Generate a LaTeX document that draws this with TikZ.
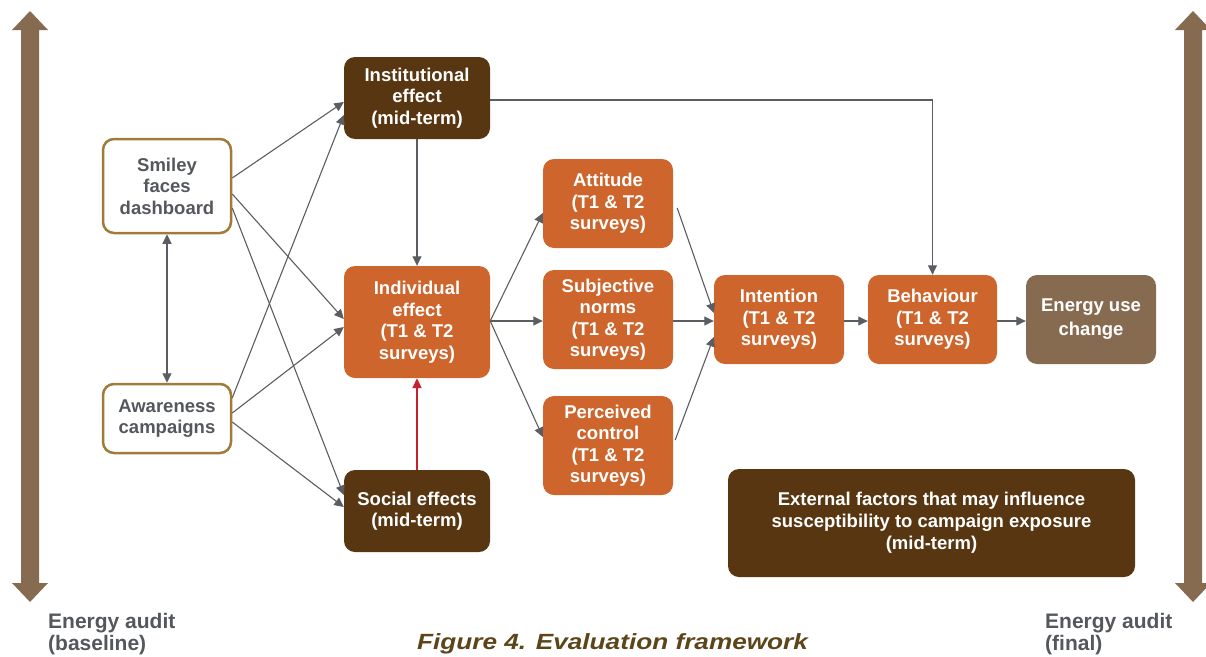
\documentclass[tikz,border=0pt]{standalone}
\usepackage{fontspec}
\usepackage{graphicx}
\setmainfont{Liberation Sans}
\usetikzlibrary{arrows.meta}
\definecolor{dbrown}{HTML}{573611}
\definecolor{orng}{HTML}{CD652C}
\definecolor{lbrown}{HTML}{876B51}
\definecolor{gold}{HTML}{A07B3A}
\definecolor{tgray}{HTML}{54585C}
\definecolor{cgray}{HTML}{5A5D61}
\definecolor{redc}{HTML}{C8202F}
\definecolor{capcol}{HTML}{5C4519}
\newcommand{\boxfont}{\bfseries\fontsize{18.5}{21.5}\selectfont}
\tikzset{
  box/.style={rounded corners=11pt, inner sep=0pt, align=center, font=\boxfont, text=white},
  dark/.style={box, fill=dbrown},
  org/.style={box, fill=orng},
  wbox/.style={box, fill=white, draw=gold, line width=2.5pt, text=tgray},
  conn/.style={draw=cgray, line width=1.1pt, -{Triangle[length=9.5pt,width=9pt]}},
  redconn/.style={draw=redc, line width=2pt, -{Triangle[length=10pt,width=9pt]}},
  bigarrow/.style={fill=lbrown, draw=none},
  audit/.style={font=\bfseries\fontsize{21}{22}\selectfont, text=tgray, align=left, inner sep=0pt, anchor=base west},
}
\begin{document}
\begin{tikzpicture}[x=1pt,y=-1pt]
\useasboundingbox (0,0) rectangle (1206,656);
% big vertical arrows
\fill[bigarrow] (21,30) -- (12,30) -- (30,11) -- (48,30) -- (39,30) -- (39,583) -- (48,583) -- (30,602) -- (12,583) -- (21,583) -- cycle;
\fill[bigarrow] (1184,30) -- (1175,30) -- (1193,11) -- (1211,30) -- (1202,30) -- (1202,583) -- (1211,583) -- (1193,602) -- (1175,583) -- (1184,583) -- cycle;
% boxes
\node[dark, minimum width=146pt, minimum height=82pt] (inst) at (417,98) {Institutional\\effect\\(mid-term)};
\node[wbox, minimum width=128pt, minimum height=94pt] (smiley) at (167,186) {Smiley\\faces\\dashboard};
\node[wbox, minimum width=128pt, minimum height=69pt] (aware) at (167,418.5) {Awareness\\campaigns};
\node[org, minimum width=146pt, minimum height=112pt] (indiv) at (417,322) {Individual\\effect\\(T1 \& T2\\surveys)};
\node[dark, minimum width=146pt, minimum height=82pt] (social) at (417,511) {Social effects\\(mid-term)};
\node[org, minimum width=130pt, minimum height=89pt] (att) at (608,203.5) {Attitude\\(T1 \& T2\\surveys)};
\node[org, minimum width=130pt, minimum height=99pt] (subj) at (608,319.5) {Subjective\\norms\\(T1 \& T2\\surveys)};
\node[org, minimum width=130pt, minimum height=99pt] (perc) at (608,445.5) {Perceived\\control\\(T1 \& T2\\surveys)};
\node[org, minimum width=130pt, minimum height=89pt] (intent) at (779,319.5) {Intention\\(T1 \& T2\\surveys)};
\node[org, minimum width=129pt, minimum height=89pt] (behav) at (932.5,319.5) {Behaviour\\(T1 \& T2\\surveys)};
\node[box, fill=lbrown, minimum width=130pt, minimum height=89pt, font=\bfseries\fontsize{18.5}{24}\selectfont] (energy) at (1091,319.5) {Energy use\\change};
\node[dark, minimum width=407pt, minimum height=108pt, font=\bfseries\fontsize{18.5}{22}\selectfont] (ext) at (931.5,523) {External factors that may influence\\susceptibility to campaign exposure\\(mid-term)};
% labels
\node[audit] (auditl) at (48,650) {Energy audit\\(baseline)};
\node[audit] (auditr) at (1045,650) {Energy audit\\(final)};
\node[font=\bfseries\itshape\fontsize{22}{24}\selectfont, text=capcol, anchor=base, inner sep=0pt] (cap) at (612.5,649) {\scalebox{1.19}[1]{Figure 4. Evaluation framework}};
% connectors
\draw[conn] ([yshift=8pt]smiley.east) -- ([yshift=-4pt]inst.west);
\draw[conn] ([yshift=-8pt]smiley.east) -- ([yshift=3pt]indiv.west);
\draw[conn] ([yshift=-22pt]smiley.east) -- ([yshift=16pt]social.west);
\draw[conn] ([yshift=20.5pt]aware.east) -- ([yshift=-17pt]inst.west);
\draw[conn] ([yshift=5.5pt]aware.east) -- ([yshift=-5pt]indiv.west);
\draw[conn] ([yshift=-3.5pt]aware.east) -- ([yshift=4pt]social.west);
\draw[conn, {Triangle[length=9.5pt,width=9pt]}-{Triangle[length=9.5pt,width=9pt]}] (smiley.south) -- (aware.north);
\draw[conn] (inst.south) -- (indiv.north);
\draw[redconn] (social.north) -- (indiv.south);
\draw[conn] ([yshift=1pt]indiv.east) -- ([yshift=-9.5pt]att.west);
\draw[conn] ([yshift=1pt]indiv.east) -- ([yshift=-1.5pt]subj.west);
\draw[conn] ([yshift=1pt]indiv.east) -- ([yshift=8.5pt]perc.west);
\draw[conn] ([xshift=4pt,yshift=-4.5pt]att.east) -- ([yshift=6.5pt]intent.west);
\draw[conn] ([yshift=-1.5pt]subj.east) -- ([yshift=-1.5pt]intent.west);
\draw[conn] ([xshift=2pt,yshift=5.5pt]perc.east) -- ([yshift=-17.5pt]intent.west);
\draw[conn] ([yshift=-1.5pt]intent.east) -- ([yshift=-1.5pt]behav.west);
\draw[conn] ([yshift=-1.5pt]behav.east) -- ([yshift=-1.5pt]energy.west);
\draw[conn] ([yshift=-2pt]inst.east) -| (behav.north);
\end{tikzpicture}
\end{document}
